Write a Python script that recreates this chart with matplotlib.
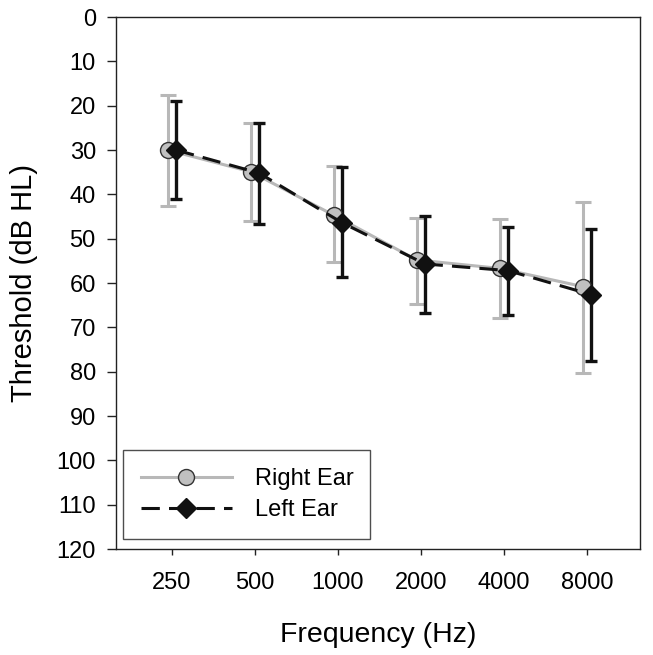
import matplotlib
matplotlib.use("Agg")
import matplotlib.pyplot as plt
import numpy as np

plt.rcParams['font.family'] = ['Liberation Sans', 'DejaVu Sans']

freqs = ["250", "500", "1000", "2000", "4000", "8000"]
right_mean = [30.0, 34.9, 44.7, 54.8, 56.7, 60.8]
right_low = [17.5, 24.0, 33.7, 45.3, 45.6, 41.7]
right_high = [42.6, 46.0, 55.3, 64.8, 68.0, 80.4]
left_mean = [30.0, 35.2, 46.4, 55.7, 57.2, 62.6]
left_low = [19.0, 23.8, 33.8, 44.8, 47.4, 47.8]
left_high = [41.0, 46.7, 58.7, 66.7, 67.1, 77.5]

fig = plt.figure(figsize=(6.53, 6.55), dpi=100)
ax = fig.add_axes([0.1776, 0.1618, 0.8024, 0.8122])

x = np.arange(len(freqs))
off = 0.05
rm = np.array(right_mean); lm = np.array(left_mean)
r_err = [rm - np.array(right_low), np.array(right_high) - rm]
l_err = [lm - np.array(left_low), np.array(left_high) - lm]

gray = '#b8b8b8'
ax.errorbar(x - off, rm, yerr=r_err, fmt='none', ecolor=gray, elinewidth=2.2,
            capsize=6, capthick=2.2, zorder=2)
ax.errorbar(x + off, lm, yerr=l_err, fmt='none', ecolor='#111111', elinewidth=2.4,
            capsize=4.6, capthick=2.4, zorder=3)
ax.plot(x - off, rm, color=gray, lw=2.2, marker='o', markersize=11.5,
        markerfacecolor='#c0c0c0', markeredgecolor='#333333', markeredgewidth=1.0,
        label='Right Ear', zorder=4)
ax.plot(x + off, lm, color='#111111', lw=2.2, dashes=(6, 3), marker='D', markersize=10,
        markerfacecolor='#111111', markeredgecolor='#111111',
        label='Left Ear', zorder=5)

ax.set_xlim(-0.675, 5.64)
ax.set_ylim(120, 0)
ax.set_yticks(np.arange(0, 121, 10))
ax.set_xticks(x)
ax.set_xticklabels(freqs)
ax.tick_params(axis='both', labelsize=17, direction='out', width=1, color='#222222')
ax.tick_params(axis='y', length=6.5, pad=8)
ax.tick_params(axis='x', length=4.5, pad=12)
ax.set_xlabel('Frequency (Hz)', fontsize=20.5, labelpad=20)
ax.set_ylabel('Threshold (dB HL)', fontsize=21, labelpad=13)
for s in ax.spines.values():
    s.set_linewidth(1.0)
    s.set_color('#222222')

leg = ax.legend(loc='lower left', fontsize=17, frameon=True, fancybox=False,
                edgecolor='#222222', handlelength=3.85, borderpad=0.75,
                handletextpad=1.0, labelspacing=0.4, borderaxespad=0,
                mode='expand',
                bbox_to_anchor=(0.0134, 0.0188, 0.471, 0.16))
leg.get_frame().set_linewidth(1.0)

fig.savefig('out.png', dpi=100)
